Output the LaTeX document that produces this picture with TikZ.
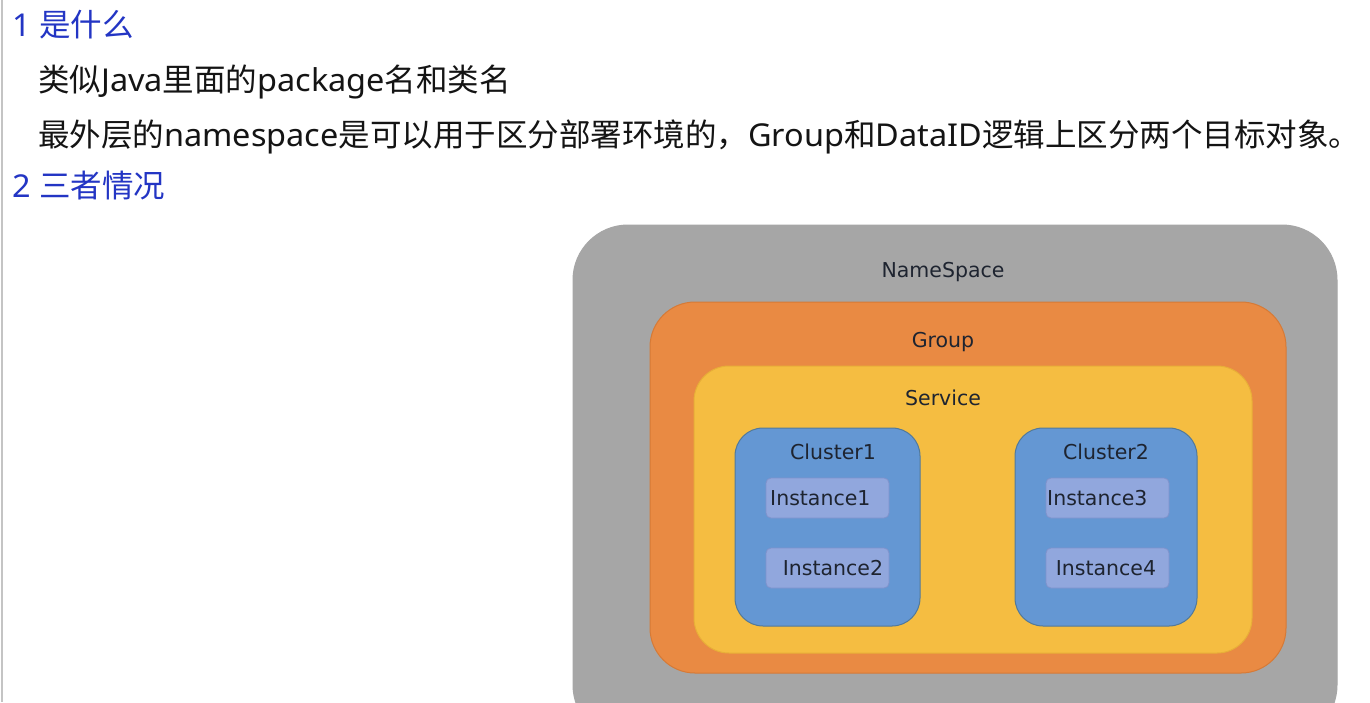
\documentclass[tikz,border=0pt]{standalone}
\usepackage{fontspec}
\setmainfont{Noto Sans}[FakeStretch=1.03]
\newfontfamily\cjk{Noto Sans CJK SC}
\newfontfamily\dv{DejaVu Sans}
\definecolor{headblue}{HTML}{2335C4}
\definecolor{bodytext}{HTML}{141414}
\definecolor{nsgray}{HTML}{A6A6A6}
\definecolor{grouporange}{HTML}{E98A43}
\definecolor{groupedge}{HTML}{D67A36}
\definecolor{servyellow}{HTML}{F5BD41}
\definecolor{servedge}{HTML}{E8AE38}
\definecolor{clublue}{HTML}{6497D3}
\definecolor{cluedge}{HTML}{52799A}
\definecolor{instfill}{HTML}{91A7DD}
\definecolor{instedge}{HTML}{7F93CC}
\definecolor{difftext}{HTML}{1E2430}
\definecolor{edgegray}{HTML}{C4C4C4}
\newcommand{\C}[1]{{\cjk #1}}
\begin{document}
\begin{tikzpicture}[x=1pt,y=-1pt,
  heading/.style={anchor=base west,inner sep=0pt,text=headblue,font=\fontsize{31.5}{36}\selectfont},
  bodyline/.style={anchor=base west,inner sep=0pt,text=bodytext,font=\fontsize{31.5}{36}\selectfont},
  layer/.style={rounded corners=#1,line width=1pt},
  inst/.style={draw=instedge,fill=instfill,rounded corners=5pt,minimum width=123pt,minimum height=40pt,inner sep=0pt,line width=0.8pt},
  lbl/.style={anchor=base,inner sep=0pt,text=difftext,font=\dv\fontsize{20.5}{24}\selectfont},
  lblw/.style={anchor=base west,inner sep=0pt,text=difftext,font=\dv\fontsize{20.5}{24}\selectfont}]
\useasboundingbox (0,0) rectangle (1370,702);
\fill[white] (0,0) rectangle (1370,702);
\draw[edgegray,line width=2pt] (1.5,0) -- (1.5,702);

% text
\node[heading] (h1) at (12,36) {1 \C{是什么}};
\node[bodyline] (l1) at (38,91) {\C{类似}Java\C{里面的}package\C{名和类名}};
\node[bodyline] (l2) at (38,146) {\C{最外层的}namespace\C{是可以用于区分部署环境的，}Group\C{和}DataID\C{逻辑上区分两个目标对象。}};
\node[heading] (h2) at (12,197) {2 \C{三者情况}};

% nested boxes
\node[layer=55pt,fill=nsgray,draw=nsgray,minimum width=764pt,minimum height=515pt,inner sep=0pt] (ns) at (955,482.5) {};
\node[layer=45pt,fill=grouporange,draw=groupedge,minimum width=636pt,minimum height=371pt,inner sep=0pt] (grp) at (968,487.5) {};
\node[layer=35pt,fill=servyellow,draw=servedge,minimum width=558pt,minimum height=287pt,inner sep=0pt] (srv) at (973,509.5) {};
\node[layer=28pt,fill=clublue,draw=cluedge,minimum width=185pt,minimum height=198pt,inner sep=0pt] (c1) at (827.5,527) {};
\node[layer=28pt,fill=clublue,draw=cluedge,minimum width=182pt,minimum height=198pt,inner sep=0pt] (c2) at (1106,527) {};
\node[inst] (i1) at (827.5,498) {};
\node[inst] (i2) at (827.5,568) {};
\node[inst] (i3) at (1107.5,498) {};
\node[inst] (i4) at (1107.5,568) {};

% labels
\node[lbl] (tns) at (943,277) {NameSpace};
\node[lbl] (tgrp) at (943,347) {Group};
\node[lbl] (tsrv) at (943,405) {Service};
\node[lbl] (tc1) at (833,459) {Cluster1};
\node[lbl] (tc2) at (1106,459) {Cluster2};
\node[lblw] (ti1) at (770,505) {Instance1};
\node[lbl] (ti2) at (833,575) {Instance2};
\node[lblw] (ti3) at (1047,505) {Instance3};
\node[lbl] (ti4) at (1106,575) {Instance4};
\end{tikzpicture}
\end{document}
